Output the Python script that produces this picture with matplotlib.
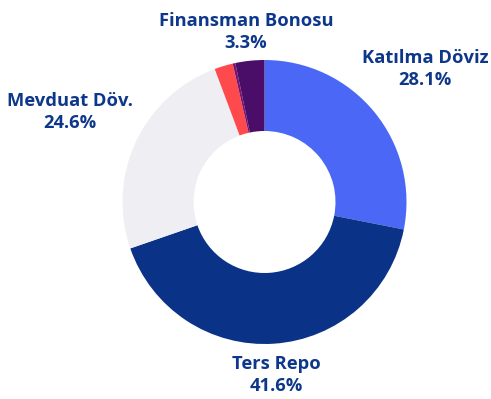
import matplotlib.pyplot as plt

# portfolio distribution (%), clockwise from 12 o'clock
labels = ['Katılma Döviz', 'Ters Repo', 'Mevduat Döv.', 'Diğer', 'Diğer 2', 'Finansman Bonosu']
values = [28.1, 41.6, 24.6, 2.1, 0.3, 3.3]
colors = ['#4a68f5', '#0a3388', '#eeeef3', '#ff4a4d', '#7a1470', '#4a0e68']
shown = ['Katılma Döviz', 'Ters Repo', 'Mevduat Döv.', 'Finansman Bonosu']

W, H = 491, 399
fig = plt.figure(figsize=(W / 100, H / 100), dpi=100)
ax = fig.add_axes([0, 0, 1, 1])

cx, cy, r = 264.5, H - 202, 142
ax.pie(values, colors=colors, startangle=90, counterclock=False,
       center=(cx, cy), radius=r, frame=True,
       wedgeprops=dict(width=r * 0.5, linewidth=0))
ax.set_xlim(0, W)
ax.set_ylim(0, H)
ax.set_aspect('equal')
ax.axis('off')

# label positions (pixels from top-left)
pos = {
    'Katılma Döviz': (425, 69),
    'Ters Repo': (276, 375),
    'Mevduat Döv.': (70, 112),
    'Finansman Bonosu': (246, 32),
}
txt_color = '#0d378a'
for name in shown:
    v = values[labels.index(name)]
    x, y = pos[name]
    ax.text(x, H - y, f'{name}\n{v:.1f}%', ha='center', va='center',
            fontsize=13.2, fontweight='bold', color=txt_color,
            family='Open Sans', linespacing=1.35)

fig.savefig('out.png', dpi=100)
